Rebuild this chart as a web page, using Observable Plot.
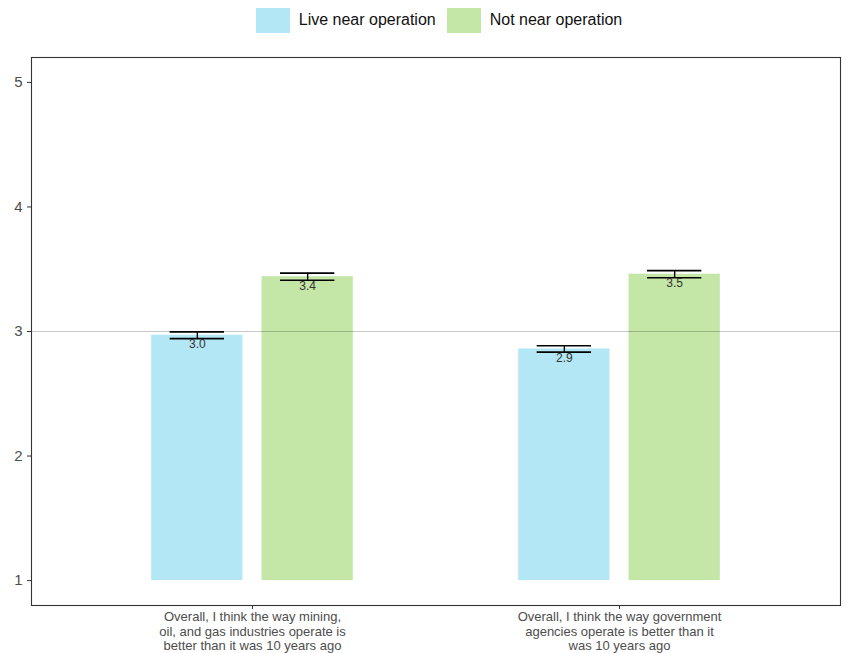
<!DOCTYPE html>
<html>
<head>
<meta charset="utf-8">
<script src="https://cdn.jsdelivr.net/npm/d3@7"></script>
<script src="https://cdn.jsdelivr.net/npm/@observablehq/plot@0.6"></script>
<style>
  body { margin: 0; background: #fff; font-family: "Liberation Sans", Arial, Helvetica, sans-serif; }
  #legend { height: 40px; display: flex; align-items: center; justify-content: center; padding-left: 22px; box-sizing: border-box; font-size: 16px; color: #111; }
  #legend .item { display: flex; align-items: center; margin-right: 11px; }
  #legend .item:last-child { margin-right: 0; }
  #legend .key { width: 34px; height: 25px; margin-right: 9px; }
</style>
</head>
<body>
<div id="legend"></div>
<div id="chart"></div>
<script>
// Survey statements (categories) and their wrapped axis labels
const categories = ["mining", "government"];
const tickLabels = [
  "Overall, I think the way mining,\noil, and gas industries operate is\nbetter than it was 10 years ago",
  "Overall, I think the way government\nagencies operate is better than it\nwas 10 years ago"
];

// Respondent groups
const series = ["Live near operation", "Not near operation"];
const colors = ["#b3e7f5", "#c4e6a6"];

// Mean agreement (1–5 scale) and standard errors, per statement
const liveMean = [2.97, 2.86];
const liveSE = [0.027, 0.026];
const notNearMean = [3.44, 3.46];
const notNearSE = [0.029, 0.029];

// Y axis ticks
const yTicks = [1, 2, 3, 4, 5];

const rows = categories.flatMap((c, i) => [
  {question: c, series: series[0], value: liveMean[i], se: liveSE[i]},
  {question: c, series: series[1], value: notNearMean[i], se: notNearSE[i]}
]);

// Layout
const W = 856, H = 613;
const mL = 31, mR = 16, mT = 17, mB = 48;
const padInner = 0.4, padOuter = 0.3;
const step = (W - mL - mR) / (categories.length - padInner + 2 * padOuter);
const band = step * (1 - padInner);
const sub = band / 2;                 // dodge slot for each group
const barW = sub * 5 / 6;
const edge = sub / 12;
const capHalf = 27.5;

// Per-series horizontal placement inside a statement's band
const place = [
  {insetLeft: edge, insetRight: band - edge - barW, dx: -sub / 2},
  {insetLeft: sub + edge, insetRight: edge, dx: sub / 2}
];
const cap = s => ({
  insetLeft: band / 2 + place[s].dx - capHalf,
  insetRight: band / 2 - place[s].dx - capHalf
});

// Legend
const legend = d3.select("#legend");
series.forEach((s, i) => {
  const item = legend.append("div").attr("class", "item");
  item.append("div").attr("class", "key").style("background", colors[i]);
  item.append("span").text(s);
});

const fmt = d3.format(".1f");

const marks = [];
series.forEach((s, i) => {
  const data = rows.filter(d => d.series === s);
  marks.push(Plot.barY(data, {x: "question", y1: 1, y2: "value", fill: "series",
    insetLeft: place[i].insetLeft, insetRight: place[i].insetRight}));
});
marks.push(Plot.ruleY([3], {stroke: "#000", strokeOpacity: 0.22, strokeWidth: 1.1}));
series.forEach((s, i) => {
  const data = rows.filter(d => d.series === s);
  marks.push(Plot.ruleX(data, {x: "question", y1: d => d.value - d.se, y2: d => d.value + d.se,
    dx: place[i].dx, stroke: "#000", strokeWidth: 1.4}));
  marks.push(Plot.tickY(data, {x: "question", y: d => d.value - d.se, ...cap(i), stroke: "#000", strokeWidth: 1.6}));
  marks.push(Plot.tickY(data, {x: "question", y: d => d.value + d.se, ...cap(i), stroke: "#000", strokeWidth: 1.6}));
  marks.push(Plot.text(data, {x: "question", y: "value", text: d => fmt(d.value), dx: place[i].dx, dy: 9,
    fontSize: 12, fill: "#333"}));
});
marks.push(Plot.axisY({ticks: yTicks, tickFormat: d3.format("d"), tickSize: 4, tickPadding: 5, fontSize: 15,
  fill: "#4d4d4d", stroke: "#333", label: null}));
marks.push(Plot.axisX({tickSize: 4, tickPadding: 2, fontSize: 13, lineHeight: 1.08,
  fill: "#4d4d4d", stroke: "#333", label: null,
  tickFormat: d => tickLabels[categories.indexOf(d)]}));
marks.push(Plot.frame({stroke: "#333", strokeWidth: 1.1}));

const chart = Plot.plot({
  width: W, height: H,
  marginLeft: mL, marginRight: mR, marginTop: mT, marginBottom: mB,
  style: {fontFamily: '"Liberation Sans", Arial, Helvetica, sans-serif', background: "#fff"},
  x: {type: "band", domain: categories, paddingInner: padInner, paddingOuter: padOuter, axis: null},
  y: {domain: [0.8, 5.2], axis: null},
  color: {domain: series, range: colors},
  marks
});
document.getElementById("chart").appendChild(chart);
</script>
</body>
</html>
